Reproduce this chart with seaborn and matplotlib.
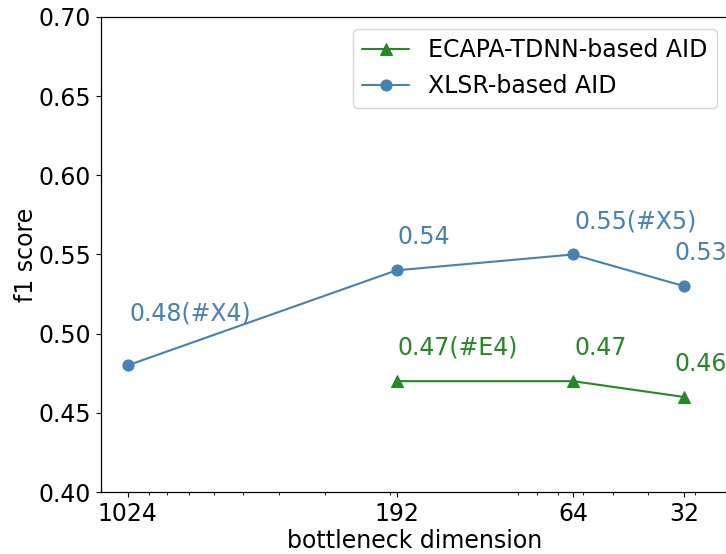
import matplotlib
matplotlib.use("Agg")
import matplotlib.pyplot as plt
import matplotlib.ticker as mticker
import seaborn as sns
import pandas as pd

# data
xlsr_dims = [1024, 192, 64, 32]
xlsr_f1 = [0.48, 0.54, 0.55, 0.53]
xlsr_labels = ["0.48(#X4)", "0.54", "0.55(#X5)", "0.53"]

ecapa_dims = [192, 64, 32]
ecapa_f1 = [0.47, 0.47, 0.46]
ecapa_labels = ["0.47(#E4)", "0.47", "0.46"]

xticks = [1024, 192, 64, 32]
xtick_labels = ["1024", "192", "64", "32"]

sns.set_style("ticks", rc={"text.color": "black", "axes.labelcolor": "black",
                           "xtick.color": "black", "ytick.color": "black",
                           "axes.edgecolor": "black"})
plt.rcParams["font.family"] = ["DejaVu Sans"]
FS = 17
plt.rcParams["font.size"] = FS

W, H = 726, 554
fig = plt.figure(figsize=(W / 100, H / 100), dpi=100)
ax = fig.add_axes([101 / W, 62 / H, 628 / W, 475 / H])

df_e = pd.DataFrame({"dim": ecapa_dims, "f1": ecapa_f1, "model": "ECAPA-TDNN-based AID"})
df_x = pd.DataFrame({"dim": xlsr_dims, "f1": xlsr_f1, "model": "XLSR-based AID"})

green = "#228B22"
blue = "#4682B4"

sns.lineplot(data=df_e, x="dim", y="f1", ax=ax, color=green, marker="^",
             markersize=8, markeredgecolor=green, linewidth=1.5,
             label="ECAPA-TDNN-based AID")
sns.lineplot(data=df_x, x="dim", y="f1", ax=ax, color=blue, marker="o",
             markersize=8, markeredgecolor=blue, linewidth=1.5,
             label="XLSR-based AID")

ax.set_xscale("log")
ax.set_xlim(1210, 24.2)
ax.set_ylim(0.40, 0.70)
ax.xaxis.set_major_locator(mticker.FixedLocator(xticks))
ax.xaxis.set_major_formatter(mticker.FixedFormatter(xtick_labels))
ax.xaxis.set_minor_formatter(mticker.NullFormatter())
ax.set_yticks([0.40, 0.45, 0.50, 0.55, 0.60, 0.65, 0.70])
ax.yaxis.set_major_formatter(mticker.FormatStrFormatter("%.2f"))

for s in ax.spines.values():
    s.set_linewidth(0.9)
    s.set_color("black")
ax.tick_params(axis="both", which="major", labelsize=FS, length=3.5, width=0.8,
               color="black", labelcolor="black")
ax.tick_params(axis="x", which="minor", length=2, width=0.6, color="black")

ax.set_xlabel("bottleneck dimension", fontsize=FS, labelpad=2)
ax.set_ylabel("f1 score", fontsize=FS, labelpad=0)

# annotations (offsets in points)
x_offsets = {1024: 1, 192: 1, 64: 1, 32: -7}
for d, v, t in zip(xlsr_dims, xlsr_f1, xlsr_labels):
    dy = 32 if d == 1024 else 19
    ax.annotate(t, (d, v), xytext=(x_offsets[d], dy), textcoords="offset points",
                color=blue, fontsize=FS, ha="left", va="baseline")
for d, v, t in zip(ecapa_dims, ecapa_f1, ecapa_labels):
    ax.annotate(t, (d, v), xytext=(x_offsets[d], 19), textcoords="offset points",
                color=green, fontsize=FS, ha="left", va="baseline")

ax.legend(loc="upper right", fontsize=FS, frameon=True)

fig.savefig("out.png", dpi=100)
